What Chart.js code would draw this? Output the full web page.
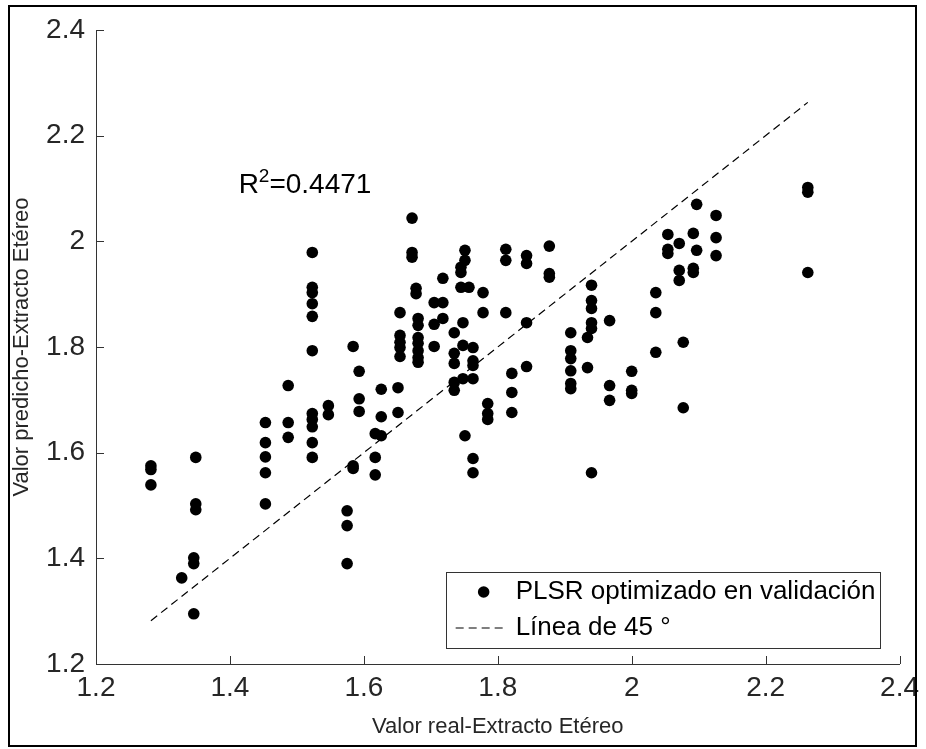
<!DOCTYPE html>
<html>
<head>
<meta charset="utf-8">
<script src="https://cdn.jsdelivr.net/npm/chart.js@4.4.0/dist/chart.umd.min.js"></script>
<style>
  html, body { margin: 0; padding: 0; background: #fff; }
  #wrap { position: relative; width: 926px; height: 749px; }
  #frame { position: absolute; left: 8px; top: 5px; width: 909px; height: 742px; border: 2px solid #000; box-sizing: border-box; pointer-events: none; }
  #chart { position: absolute; left: 0; top: 0; }
</style>
</head>
<body>
<div id="wrap">
  <canvas id="chart" width="926" height="749"></canvas>
  <div id="frame"></div>
</div>
<script>
// values (real vs predicted)
const realValues = [
  1.282, 1.282, 1.282,
  1.328,
  1.349, 1.349, 1.349,
  1.346, 1.346, 1.346,
  1.453, 1.453, 1.453, 1.453, 1.453,
  1.487, 1.487, 1.487,
  1.523, 1.523, 1.523, 1.523, 1.523, 1.523, 1.523, 1.523, 1.523, 1.523, 1.523,
  1.547, 1.547,
  1.575, 1.575, 1.575,
  1.584, 1.584, 1.584,
  1.593, 1.593, 1.593,
  1.617, 1.617, 1.617,
  1.626, 1.626, 1.626,
  1.651, 1.651,
  1.654, 1.654, 1.654, 1.654, 1.654,
  1.672, 1.672, 1.672,
  1.678, 1.678,
  1.681, 1.681, 1.681, 1.681, 1.681, 1.681, 1.681,
  1.705, 1.705, 1.705,
  1.718, 1.718, 1.718,
  1.735, 1.735, 1.735, 1.735, 1.735,
  1.748, 1.748, 1.748,
  1.751, 1.751, 1.751,
  1.745, 1.745, 1.745,
  1.757,
  1.763, 1.763, 1.763, 1.763, 1.763, 1.763,
  1.778, 1.778,
  1.785, 1.785, 1.785,
  1.812, 1.812, 1.812,
  1.821, 1.821, 1.821,
  1.843, 1.843, 1.843, 1.843,
  1.877, 1.877, 1.877,
  1.909, 1.909, 1.909, 1.909, 1.909, 1.909,
  1.934, 1.934,
  1.940, 1.940, 1.940, 1.940, 1.940, 1.940,
  1.967, 1.967, 1.967,
  2.000, 2.000, 2.000,
  2.036, 2.036, 2.036,
  2.054, 2.054, 2.054,
  2.071, 2.071, 2.071,
  2.077, 2.077,
  2.092, 2.092, 2.092,
  2.097, 2.097,
  2.126, 2.126, 2.126,
  2.263, 2.263, 2.263,
];
const predictedValues = [
  1.575, 1.568, 1.539,
  1.363,
  1.591, 1.503, 1.492,
  1.401, 1.390, 1.295,
  1.657, 1.619, 1.592, 1.562, 1.503,
  1.727, 1.657, 1.629,
  1.979, 1.913, 1.903, 1.882, 1.858, 1.793, 1.674, 1.663, 1.649, 1.619, 1.591,
  1.689, 1.672,
  1.490, 1.462, 1.390,
  1.801, 1.575, 1.570,
  1.754, 1.702, 1.678,
  1.636, 1.591, 1.558,
  1.720, 1.668, 1.632,
  1.723, 1.676,
  1.865, 1.822, 1.809, 1.799, 1.782,
  2.044, 1.979, 1.970,
  1.911, 1.901,
  1.854, 1.841, 1.818, 1.807, 1.793, 1.780, 1.771,
  1.884, 1.843, 1.801,
  1.930, 1.884, 1.854,
  1.827, 1.788, 1.769, 1.733, 1.718,
  1.846, 1.803, 1.740,
  1.983, 1.964, 1.632,
  1.951, 1.941, 1.913,
  1.913,
  1.799, 1.774, 1.765, 1.740, 1.589, 1.562,
  1.903, 1.865,
  1.693, 1.674, 1.663,
  1.985, 1.964, 1.865,
  1.750, 1.714, 1.676,
  1.973, 1.958, 1.846, 1.763,
  1.991, 1.939, 1.932,
  1.827, 1.793, 1.778, 1.755, 1.731, 1.721,
  1.818, 1.761,
  1.917, 1.888, 1.873, 1.846, 1.835, 1.562,
  1.850, 1.727, 1.699,
  1.754, 1.718, 1.712,
  1.903, 1.865, 1.790,
  2.013, 1.985, 1.977,
  1.996, 1.945, 1.926,
  1.809, 1.685,
  2.015, 1.949, 1.941,
  2.070, 1.983,
  2.049, 2.007, 1.973,
  2.102, 2.093, 1.941,
];
const tickValues = [1.2, 1.4, 1.6, 1.8, 2.0, 2.2, 2.4];
const tickLabels = ['1.2', '1.4', '1.6', '1.8', '2', '2.2', '2.4'];
const seriesNames = ['PLSR optimizado en validación', 'Línea de 45 °'];
const r2Text = '0.4471';

const fontFamily = '"Liberation Sans", Arial, Helvetica, sans-serif';
const axisColor = '#333333';
const textColor = '#262626';

const scatterPoints = realValues.map((v, i) => ({ x: v, y: predictedValues[i] }));
const lo = Math.min(...realValues);
const hi = Math.max(...realValues);

const useTicks = (scale) => {
  scale.ticks = tickValues.map((v) => ({ value: v }));
};

// inward ticks, R^2 note and the boxed legend
const matlabLook = {
  id: 'matlabLook',
  afterDraw(chart) {
    const { ctx, chartArea: a, scales: { x, y } } = chart;
    ctx.save();

    ctx.strokeStyle = axisColor;
    ctx.lineWidth = 1;
    ctx.beginPath();
    tickValues.forEach((v) => {
      const px = Math.round(x.getPixelForValue(v)) + 0.5;
      ctx.moveTo(px, a.bottom);
      ctx.lineTo(px, a.bottom - 8);
      const py = Math.round(y.getPixelForValue(v)) + 0.5;
      ctx.moveTo(a.left, py);
      ctx.lineTo(a.left + 8, py);
    });
    ctx.stroke();

    // R^2 text
    const tx = x.getPixelForValue(1.413);
    const ty = y.getPixelForValue(2.091);
    ctx.fillStyle = '#000';
    ctx.textBaseline = 'alphabetic';
    ctx.textAlign = 'left';
    ctx.font = '28px ' + fontFamily;
    ctx.fillText('R', tx, ty);
    let w = ctx.measureText('R').width;
    ctx.font = '19px ' + fontFamily;
    ctx.fillText('2', tx + w, ty - 11);
    w += ctx.measureText('2').width;
    ctx.font = '28px ' + fontFamily;
    ctx.fillText('=' + r2Text, tx + w, ty);

    // legend box
    ctx.font = '26px ' + fontFamily;
    const textW = Math.max(...seriesNames.map((s) => ctx.measureText(s).width));
    const boxR = a.right - 20;
    const boxB = a.bottom - 16;
    const boxW = 70 + textW + 4;
    const boxH = 76;
    const boxL = boxR - boxW;
    const boxT = boxB - boxH;
    ctx.fillStyle = '#fff';
    ctx.fillRect(boxL, boxT, boxW, boxH);
    ctx.strokeStyle = axisColor;
    ctx.lineWidth = 1;
    ctx.strokeRect(Math.round(boxL) + 0.5, Math.round(boxT) + 0.5, Math.round(boxW), Math.round(boxH));

    const row1 = boxT + 20;
    const row2 = boxT + 56;
    ctx.fillStyle = '#000';
    ctx.beginPath();
    ctx.arc(boxL + 38, row1, 5.8, 0, Math.PI * 2);
    ctx.fill();

    ctx.strokeStyle = '#000';
    ctx.lineWidth = 1.2;
    ctx.setLineDash([8, 5]);
    ctx.beginPath();
    ctx.moveTo(boxL + 10, row2);
    ctx.lineTo(boxL + 62, row2);
    ctx.stroke();
    ctx.setLineDash([]);

    ctx.fillStyle = '#000';
    ctx.textBaseline = 'middle';
    ctx.fillText(seriesNames[0], boxL + 70, row1);
    ctx.fillText(seriesNames[1], boxL + 70, row2);

    ctx.restore();
  },
};

new Chart(document.getElementById('chart'), {
  type: 'scatter',
  data: {
    datasets: [
      {
        label: seriesNames[0],
        data: scatterPoints,
        backgroundColor: '#000',
        borderColor: '#000',
        pointRadius: 5.8,
        pointBorderWidth: 0,
      },
      {
        label: seriesNames[1],
        type: 'line',
        data: [{ x: lo, y: lo }, { x: hi, y: hi }],
        borderColor: '#000',
        borderWidth: 1.2,
        borderDash: [8, 5],
        pointRadius: 0,
        fill: false,
      },
    ],
  },
  options: {
    responsive: false,
    animation: false,
    layout: { padding: { top: 30, right: 24, left: 0, bottom: 0 } },
    plugins: {
      legend: { display: false },
      tooltip: { enabled: false },
    },
    scales: {
      x: {
        type: 'linear',
        min: 1.2,
        max: 2.4,
        afterBuildTicks: useTicks,
        afterFit: (s) => { s.height = 85; },
        grid: { display: false, drawTicks: false },
        border: { display: true, color: axisColor, width: 1 },
        ticks: {
          padding: 7,
          color: textColor,
          font: { family: fontFamily, size: 28 },
          callback: (v, i) => tickLabels[i],
        },
        title: {
          display: true,
          text: 'Valor real-Extracto Etéreo',
          color: textColor,
          font: { family: fontFamily, size: 22 },
          padding: { top: 0, bottom: 9 },
        },
      },
      y: {
        type: 'linear',
        min: 1.2,
        max: 2.4,
        afterBuildTicks: useTicks,
        afterFit: (s) => { s.width = 96; },
        grid: { display: false, drawTicks: false },
        border: { display: true, color: axisColor, width: 1 },
        ticks: {
          padding: 11,
          color: textColor,
          font: { family: fontFamily, size: 28 },
          callback: (v, i) => tickLabels[i],
        },
        title: {
          display: true,
          text: 'Valor predicho-Extracto Etéreo',
          color: textColor,
          font: { family: fontFamily, size: 22 },
          padding: { top: 9, bottom: 0 },
        },
      },
    },
  },
  plugins: [matlabLook],
});
</script>
</body>
</html>
